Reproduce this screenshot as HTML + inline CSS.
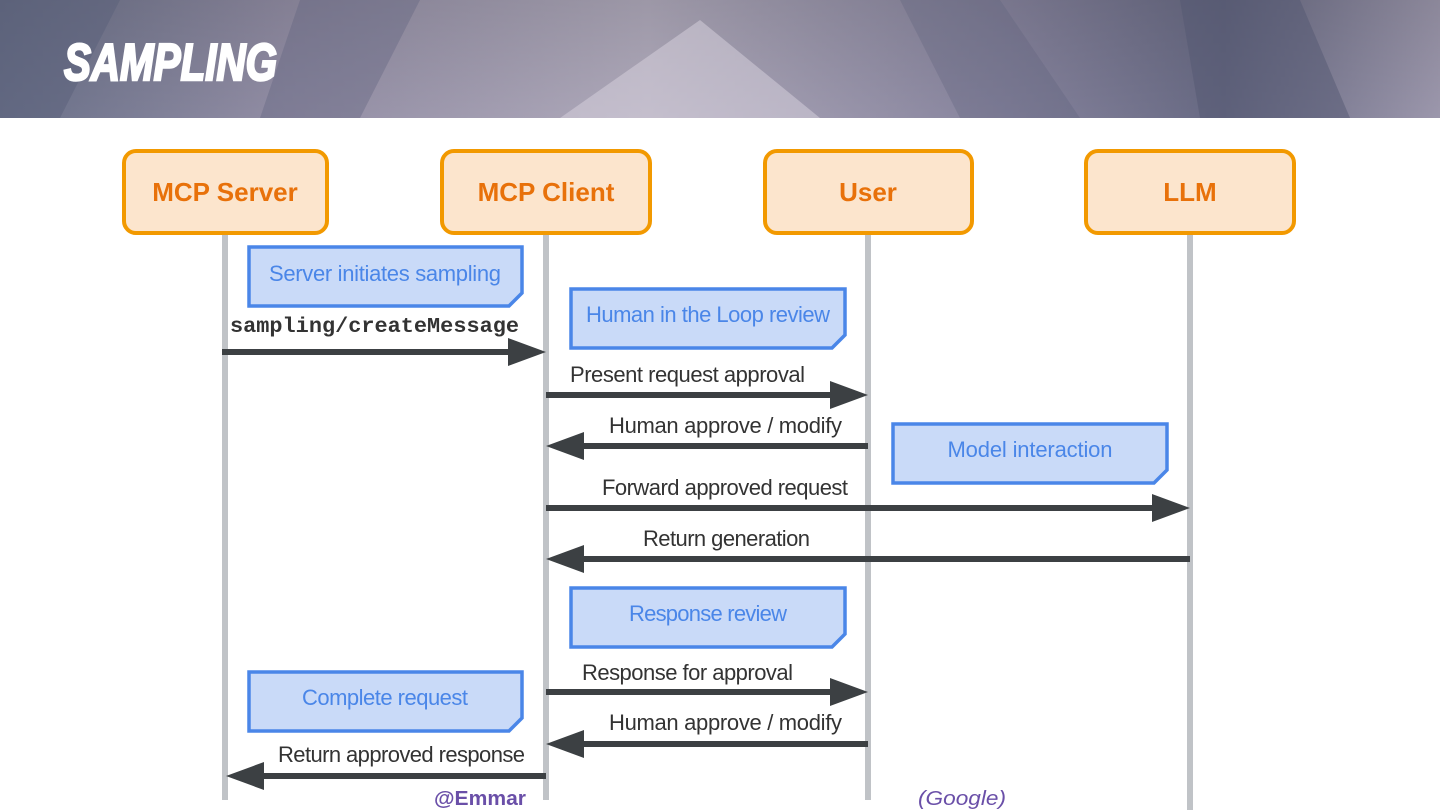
<!DOCTYPE html>
<html><head><meta charset="utf-8"><style>
html,body{margin:0;padding:0;width:1440px;height:810px;overflow:hidden;background:#fff}
</style></head><body>
<svg width="1440" height="810" xmlns="http://www.w3.org/2000/svg" font-family="Liberation Sans, sans-serif">
<defs>
<linearGradient id="hd" x1="0" y1="0" x2="1" y2="0">
<stop offset="0" stop-color="#6f7690"/><stop offset="0.2" stop-color="#9a95ad"/><stop offset="0.45" stop-color="#b8b2c4"/><stop offset="0.7" stop-color="#8d8aa5"/><stop offset="0.85" stop-color="#6d6f8a"/><stop offset="1" stop-color="#a49fb5"/>
</linearGradient>
<linearGradient id="hv" x1="0" y1="0" x2="0" y2="1">
<stop offset="0" stop-color="#000" stop-opacity="0.15"/><stop offset="1" stop-color="#000" stop-opacity="0.05"/>
</linearGradient>
</defs>
<rect x="0" y="0" width="1440" height="118" fill="url(#hd)"/>
<rect x="0" y="0" width="1440" height="118" fill="url(#hv)"/>
<polygon points="0,0 120,0 60,118 0,118" fill="#5a6079" opacity="0.5"/>
<polygon points="1180,0 1300,0 1350,118 1200,118" fill="#545872" opacity="0.5"/>
<polygon points="560,118 700,20 820,118" fill="#d9d3df" opacity="0.5"/>
<polygon points="300,0 420,0 360,118 260,118" fill="#5d5f7a" opacity="0.35"/>
<polygon points="900,0 1000,0 1080,118 960,118" fill="#5d5f7a" opacity="0.3"/>
<text x="64" y="80" font-size="52" font-weight="bold" font-style="italic" fill="#fff" stroke="#fff" stroke-width="2.5" textLength="213" lengthAdjust="spacingAndGlyphs">SAMPLING</text>

<g fill="#c0c3c7">
<rect x="222" y="232" width="6" height="568"/>
<rect x="543" y="232" width="6" height="568"/>
<rect x="865" y="232" width="6" height="568"/>
<rect x="1187" y="232" width="6" height="578"/>
</g>

<g fill="#fce5cd" stroke="#f29900" stroke-width="4">
<rect x="124" y="151" width="203" height="82" rx="12"/>
<rect x="442" y="151" width="208" height="82" rx="12"/>
<rect x="765" y="151" width="207" height="82" rx="12"/>
<rect x="1086" y="151" width="208" height="82" rx="12"/>
</g>
<g font-size="26" font-weight="bold" fill="#e8710a" text-anchor="middle">
<text x="225" y="201">MCP Server</text>
<text x="546" y="201">MCP Client</text>
<text x="868" y="201">User</text>
<text x="1190" y="201">LLM</text>
</g>

<g fill="#c9daf8" stroke="#4a86e8" stroke-width="3.5">
<path d="M249,247 H522 V293 L509,306 H249 Z"/>
<path d="M571,289 H845 V335 L832,348 H571 Z"/>
<path d="M893,424 H1167 V470 L1154,483 H893 Z"/>
<path d="M571,588 H845 V634 L832,647 H571 Z"/>
<path d="M249,672 H522 V718 L509,731 H249 Z"/>
</g>
<g font-size="22" fill="#4a86e8" text-anchor="middle" lengthAdjust="spacingAndGlyphs">
<text x="385" y="281" textLength="232">Server initiates sampling</text>
<text x="708" y="322" textLength="244">Human in the Loop review</text>
<text x="1030" y="457" textLength="165">Model interaction</text>
<text x="708" y="621" textLength="158">Response review</text>
<text x="385" y="705" textLength="166">Complete request</text>
</g>

<text x="230" y="332" font-family="Liberation Mono, monospace" font-size="21" font-weight="bold" fill="#333" textLength="289" lengthAdjust="spacingAndGlyphs">sampling/createMessage</text>

<g fill="#3c4043">
<rect x="222" y="349" width="292" height="6"/><polygon points="508,338 546,352 508,366"/>
<rect x="546" y="392" width="290" height="6"/><polygon points="830,381 868,395 830,409"/>
<rect x="580" y="443" width="288" height="6"/><polygon points="584,432 546,446 584,460"/>
<rect x="546" y="505" width="612" height="6"/><polygon points="1152,494 1190,508 1152,522"/>
<rect x="580" y="556" width="610" height="6"/><polygon points="584,545 546,559 584,573"/>
<rect x="546" y="689" width="290" height="6"/><polygon points="830,678 868,692 830,706"/>
<rect x="580" y="741" width="288" height="6"/><polygon points="584,730 546,744 584,758"/>
<rect x="258" y="773" width="288" height="6"/><polygon points="264,762 226,776 264,790"/>
</g>

<g font-size="22" fill="#333" lengthAdjust="spacingAndGlyphs">
<text x="570" y="382" textLength="235">Present request approval</text>
<text x="609" y="433" textLength="233">Human approve / modify</text>
<text x="602" y="495" textLength="246">Forward approved request</text>
<text x="643" y="546" textLength="167">Return generation</text>
<text x="582" y="680" textLength="211">Response for approval</text>
<text x="609" y="730" textLength="233">Human approve / modify</text>
<text x="278" y="762" textLength="247">Return approved response</text>
</g>

<text x="434" y="805" font-size="20" font-weight="bold" fill="#6a4fa8" textLength="92" lengthAdjust="spacingAndGlyphs">@Emmar</text>
<text x="918" y="805" font-size="20" font-style="italic" fill="#6a4fa8" textLength="88" lengthAdjust="spacingAndGlyphs">(Google)</text>
</svg>
</body></html>
